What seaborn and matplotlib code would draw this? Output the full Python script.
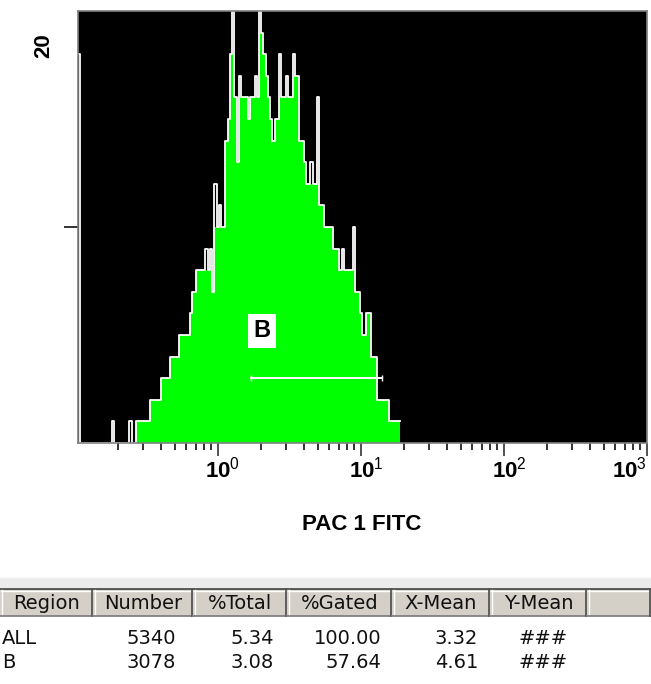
import numpy as np
import pandas as pd
import seaborn as sns
import matplotlib.pyplot as plt
from matplotlib.patches import Rectangle
from matplotlib.transforms import ScaledTranslation
from matplotlib.ticker import FixedLocator, FixedFormatter, LogLocator, NullFormatter

# -------------------------------
# Dados lidos do histograma (contagens por canal, canais log de 4/256 década)
# -------------------------------
counts = [18,
          0, 0, 0, 0, 0, 0, 0, 0, 0, 0, 0, 0, 0, 0,
          1,
          0, 0, 0, 0, 0, 0, 0,
          1, 0, 0,
          1, 1, 1, 1, 1, 1,
          2, 2, 2, 2, 2,
          3, 3, 3, 3,
          4, 4, 4, 4,
          5, 5, 5, 5, 5,
          6, 7, 7, 8, 8, 8, 8, 9, 8, 9, 7, 12, 10, 11, 10, 10,
          14, 15, 18, 20, 16, 13, 17, 16, 16, 16, 15, 16, 16, 17, 16, 20,
          19, 18, 17, 16, 15, 14, 15, 15, 18, 16, 16, 17, 16, 16, 18, 17,
          17, 14, 14, 13, 12, 12, 13, 12, 12, 16, 11, 11, 10, 10, 10, 10,
          9, 9, 9, 8, 9, 8, 8, 8, 8, 10, 7, 7, 6, 5, 5, 6,
          6, 4, 4, 4, 2, 2, 2, 2, 2, 1, 1, 1, 1, 1]

x_ticks = [1, 10, 100, 1000]
x_tick_labels = [r"$\mathbf{10}^{0}$", r"$\mathbf{10}^{1}$", r"$\mathbf{10}^{2}$", r"$\mathbf{10}^{3}$"]
y_top_label = "20"
x_label = "PAC 1 FITC"

# marcador da região B
region_name = "B"
region_range = [1.70, 14.0]
region_level = 3

# tabela de estatísticas
table_header = ["Region", "Number", "%Total", "%Gated", "X-Mean", "Y-Mean"]
table_regions = ["ALL", "B"]
table_number = ["5340", "3078"]
table_total = ["5.34", "3.08"]
table_gated = ["100.00", "57.64"]
table_xmean = ["3.32", "4.61"]
table_ymean = ["###", "###"]

# -------------------------------
# Preparação
# -------------------------------
log_start = -0.979
log_width = 4 / 256
log_edges = log_start + log_width * np.arange(len(counts) + 1)
centers = 10 ** ((log_edges[:-1] + log_edges[1:]) / 2)

c = np.array(counts)
left = np.r_[0, c[:-1]]
right = np.r_[c[1:], 0]
fill = np.minimum(c, np.maximum(left, right))  # picos isolados ficam só no contorno

df = pd.DataFrame({"x": centers, "count": c, "fill": fill})

W, H = 651, 684
plt.rcParams["font.family"] = ["Liberation Sans", "DejaVu Sans"]
plt.rcParams["mathtext.fontset"] = "custom"
plt.rcParams["mathtext.rm"] = "Liberation Sans"
plt.rcParams["mathtext.bf"] = "Liberation Sans:bold"

fig = plt.figure(figsize=(W / 100, H / 100), dpi=100)
fig.patch.set_facecolor("white")


def px(x, y):
    return x / W, 1 - y / H


ax = fig.add_axes([78 / W, 1 - 443 / H, 569 / W, 432 / H])
ax.set_facecolor("black")

sns.histplot(data=df, x="x", weights="fill", bins=list(log_edges), log_scale=True,
             element="step", fill=True, color="#00ff00", alpha=1, linewidth=0, ax=ax)
sns.histplot(data=df, x="x", weights="count", bins=list(log_edges), log_scale=True,
             element="step", fill=False, color="white", linewidth=1.3, ax=ax)

ax.set_xlim(10 ** log_start, 1000)
ax.set_ylim(0, 20)

ax.xaxis.set_major_locator(FixedLocator(x_ticks))
ax.xaxis.set_major_formatter(FixedFormatter(x_tick_labels))
ax.xaxis.set_minor_locator(LogLocator(base=10, subs=np.arange(2, 10)))
ax.xaxis.set_minor_formatter(NullFormatter())
ax.tick_params(axis="x", which="major", length=9, width=1.2, color="#333333",
               labelsize=16, pad=1)
ax.tick_params(axis="x", which="minor", length=5, width=1.4, color="#333333")
ax.set_yticks([10])
ax.set_yticklabels([""])
ax.tick_params(axis="y", length=10, width=1.4, color="#333333")
ax.set_xlabel("")
ax.set_ylabel("")
for s in ax.spines.values():
    s.set_color("#808080")
    s.set_linewidth(1.2)
    s.set_zorder(5)

# "10" centrado no tick, expoente à direita; o último encostado à borda
fig.canvas.draw()
shift = ScaledTranslation(5 / 100, 0, fig.dpi_scale_trans)
xlabels = ax.get_xticklabels()
for lab in xlabels[:-1]:
    lab.set_transform(lab.get_transform() + shift)
xlabels[-1].set_horizontalalignment("right")

# marcador da região
ax.plot(region_range, [region_level, region_level], color="white", lw=1.5)
ax.plot(region_range, [region_level, region_level], color="white", lw=0,
        marker="|", markersize=5, markeredgewidth=1)
ax.text(2.03, 5.2, region_name,
        ha="center", va="center", fontsize=17, fontweight="bold", color="black",
        bbox=dict(facecolor="white", edgecolor="none", pad=4))

fig.text(*px(44, 46), y_top_label, rotation=90, ha="center", va="center",
         fontsize=16, fontweight="bold")
fig.text(*px(362, 525), x_label, ha="center", va="center",
         fontsize=16, fontweight="bold")

# -------------------------------
# Tabela de estatísticas
# -------------------------------
tab = fig.add_axes([0, 0, 1, 1])
tab.set_xlim(0, W)
tab.set_ylim(H, 0)
tab.axis("off")
tab.set_zorder(-1)

tab.add_patch(Rectangle((0, 577), W, 11, facecolor="#ececec", edgecolor="none"))
tab.plot([0, W], [577, 577], color="#f8f8f8", lw=1)
tab.plot([0, W], [588.5, 588.5], color="#404040", lw=1.2)

col_edges = [0, 93, 193, 287, 392, 490, 587, 651]
hy0, hy1 = 589, 616
for i in range(len(col_edges) - 1):
    x0, x1 = col_edges[i], col_edges[i + 1]
    tab.add_patch(Rectangle((x0, hy0), x1 - x0, hy1 - hy0, facecolor="#d4d0c8", edgecolor="none"))
    tab.plot([x0 + 1, x1 - 1], [hy0 + 1.5, hy0 + 1.5], color="white", lw=1)
    tab.plot([x0 + 1.5, x0 + 1.5], [hy0 + 1, hy1 - 1], color="white", lw=1)
    tab.plot([x0, x1 - 1], [hy1, hy1], color="#808080", lw=1.3)
    tab.plot([x1 - 1, x1 - 1], [hy0, hy1], color="#555555", lw=1.3)
    if i < len(table_header):
        tab.text((x0 + x1) / 2, (hy0 + hy1) / 2 + 1, table_header[i], ha="center", va="center",
                 fontsize=14, family="DejaVu Sans", color="#111111")

row_y = [638, 663]
num_cols = [table_number, table_total, table_gated, table_xmean]
num_right = [176, 274, 381, 478]
for r, y in enumerate(row_y):
    tab.text(2, y, table_regions[r], ha="left", va="center", fontsize=14,
             family="DejaVu Sans", color="#111111")
    for col, xr in zip(num_cols, num_right):
        tab.text(xr, y, col[r], ha="right", va="center", fontsize=14,
                 family="DejaVu Sans", color="#111111")
    tab.text(543, y, table_ymean[r], ha="center", va="center", fontsize=14,
             family="DejaVu Sans", color="#111111")

fig.savefig("out.png", dpi=100)
